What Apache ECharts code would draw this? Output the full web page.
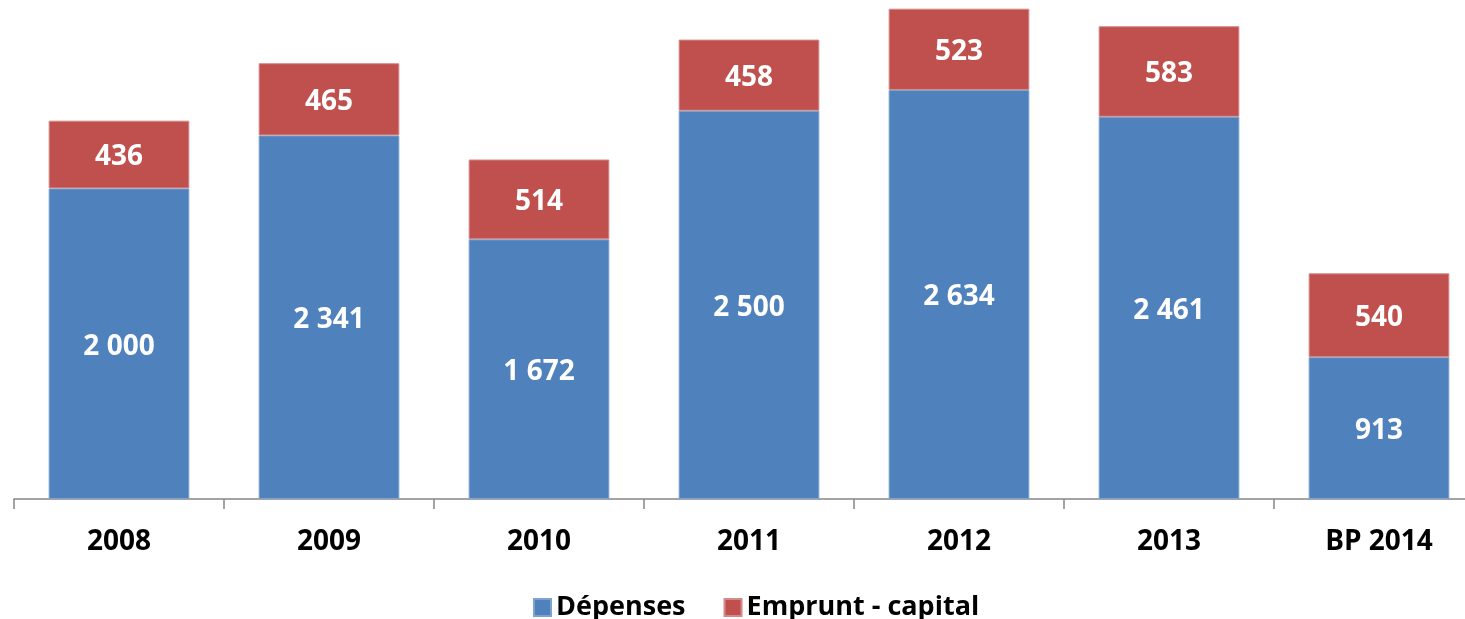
<!DOCTYPE html>
<html>
<head>
<meta charset="utf-8">
<script src="https://cdn.jsdelivr.net/npm/echarts@6/dist/echarts.min.js"></script>
<style>
  html, body { margin: 0; padding: 0; background: #fff; overflow: hidden; }
  #chart { width: 1484px; height: 619px; }
</style>
</head>
<body>
<div id="chart"></div>
<script>
const years = ['2008', '2009', '2010', '2011', '2012', '2013', 'BP 2014']
const depenses = [2000, 2341, 1672, 2500, 2634, 2461, 913]
const emprunt = [436, 465, 514, 458, 523, 583, 540]

const fontFamily = '"Open Sans", "DejaVu Sans", sans-serif'

// espace comme séparateur de milliers
function fmt(v) {
  return String(v).replace(/\B(?=(\d{3})+(?!\d))/g, ' ')
}

const chart = echarts.init(document.getElementById('chart'))
chart.setOption({
  animation: false,
  textStyle: { fontFamily: fontFamily },
  grid: {
    left: 14,
    top: 2,
    right: 0,
    bottom: 120,
    containLabel: false
  },
  legend: {
    left: 528,
    top: 589,
    itemWidth: 17,
    itemHeight: 17,
    itemGap: 38,
    icon: 'rect',
    textStyle: { fontSize: 27, fontWeight: 'bold', color: '#000', fontFamily: fontFamily },
    data: ['Dépenses', 'Emprunt - capital']
  },
  xAxis: {
    type: 'category',
    data: years,
    axisLine: { lineStyle: { color: '#868686', width: 1.5 } },
    axisTick: { show: true, length: 10, lineStyle: { color: '#868686', width: 1.5 } },
    axisLabel: {
      margin: 29,
      fontSize: 28,
      fontWeight: 'bold',
      color: '#000',
      fontFamily: fontFamily
    }
  },
  yAxis: {
    type: 'value',
    min: 0,
    max: 3200,
    show: false,
    splitLine: { show: false }
  },
  series: [
    {
      name: 'Dépenses',
      type: 'bar',
      stack: 'total',
      barWidth: '67%',
      itemStyle: { color: '#4F81BD', borderColor: '#7fa2cf', borderWidth: 1 },
      label: {
        show: true,
        position: 'inside',
        color: '#fff',
        fontSize: 28,
        fontWeight: 'bold',
        fontFamily: fontFamily,
        offset: [0, 3],
        formatter: p => fmt(p.value)
      },
      data: depenses
    },
    {
      name: 'Emprunt - capital',
      type: 'bar',
      stack: 'total',
      barWidth: '67%',
      itemStyle: { color: '#C0504D', borderColor: '#d48a88', borderWidth: 1 },
      label: {
        show: true,
        position: 'inside',
        color: '#fff',
        fontSize: 28,
        fontWeight: 'bold',
        fontFamily: fontFamily,
        offset: [0, 3],
        formatter: p => fmt(p.value)
      },
      data: emprunt
    }
  ]
})
</script>
</body>
</html>
